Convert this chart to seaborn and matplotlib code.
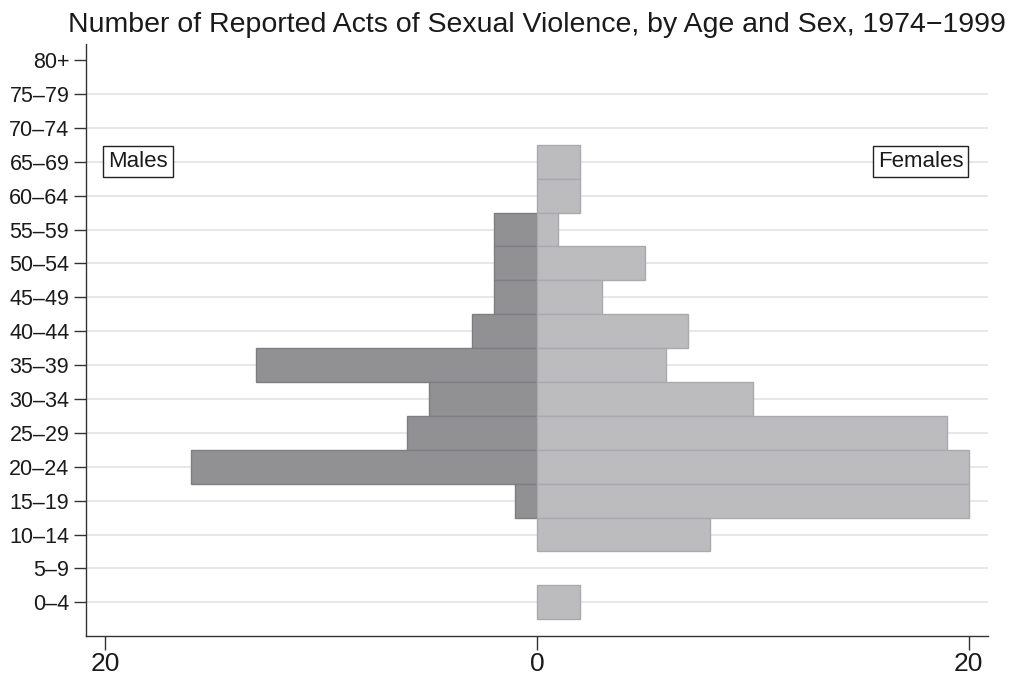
import numpy as np
import pandas as pd
import seaborn as sns
import matplotlib.pyplot as plt

# age groups, top to bottom
ages = ['80+', '75–79', '70–74', '65–69', '60–64', '55–59', '50–54', '45–49',
        '40–44', '35–39', '30–34', '25–29', '20–24', '15–19', '10–14', '5–9', '0–4']
males = [0, 0, 0, 0, 0, 2, 2, 2, 3, 13, 5, 6, 16, 1, 0, 0, 0]
females = [0, 0, 0, 2, 2, 1, 5, 3, 7, 6, 10, 19, 20, 20, 8, 0, 2]

df = pd.DataFrame({
    'age': ages * 2,
    'count': [-m for m in males] + females,
    'sex': ['Males'] * len(ages) + ['Females'] * len(ages),
})

sns.set_style('white')
plt.rcParams['font.family'] = ['Liberation Sans', 'DejaVu Sans']

fig = plt.figure(figsize=(10.11, 6.79), dpi=100)
ax = fig.add_axes([0.085, 0.063, 0.892, 0.872])

# light grid lines behind the bars
for i in range(1, len(ages)):
    ax.axhline(i, color='#e3e3e3', lw=1.2, zorder=0)

sns.barplot(data=df, y='age', x='count', hue='sex', order=ages,
            hue_order=['Males', 'Females'], palette=['#909094', '#bbbcc0'],
            dodge=False, width=1.0, orient='h', legend=False, ax=ax,
            edgecolor=None, linewidth=0)
# bar outlines, drop empty bars
for p, c in zip(list(ax.patches), ['#7e7e82'] * len(ages) + ['#a9aaae'] * len(ages)):
    if abs(p.get_width()) < 1e-9:
        p.remove()
        continue
    p.set_edgecolor(c)
    p.set_linewidth(1.0)
    p.set_zorder(2)

ax.set_xlim(-20.88, 20.88)
ax.set_ylim(17.0, -0.47)
ax.set_xticks([-20, 0, 20])
ax.set_xticklabels(['20', '0', '20'], fontsize=19)
ax.tick_params(axis='y', labelsize=15.5, length=9, width=1, color='#333333',
               labelcolor='#1a1a1a', pad=3, left=True)
ax.tick_params(axis='x', length=10, width=1, color='#333333',
               labelcolor='#1a1a1a', pad=1.5, bottom=True)
ax.set_xlabel('')
ax.set_ylabel('')
for s in ['top', 'right']:
    ax.spines[s].set_visible(False)
for s in ['left', 'bottom']:
    ax.spines[s].set_color('#333333')
    ax.spines[s].set_linewidth(1.0)

box = dict(boxstyle='square,pad=0.22', fc='white', ec='#222222', lw=1)
ax.text(-19.85, 3, 'Males', ha='left', va='center', fontsize=16, bbox=box, color='#1a1a1a')
ax.text(19.75, 3, 'Females', ha='right', va='center', fontsize=16, bbox=box, color='#1a1a1a')

ax.set_title('Number of Reported Acts of Sexual Violence, by Age and Sex, 1974−1999',
             fontsize=20.5, color='#1a1a1a', pad=9)

fig.savefig('out.png', dpi=100)
